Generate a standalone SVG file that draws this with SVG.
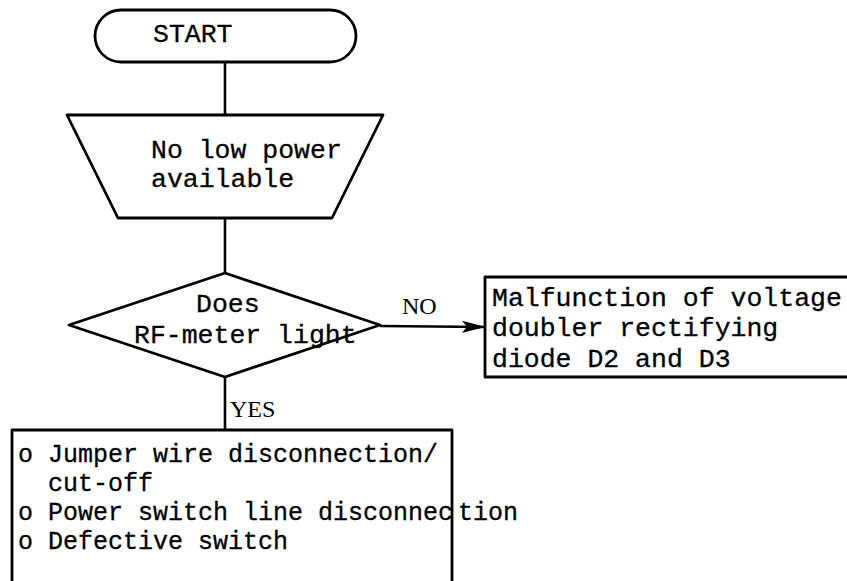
<svg xmlns="http://www.w3.org/2000/svg" width="847" height="581" viewBox="0 0 847 581">
  <style>
    .shape { fill: none; stroke: #000; stroke-width: 2.8; stroke-linejoin: round; }
    .wire { fill: none; stroke: #000; stroke-width: 2.6; }
    .txt { font-family: "Liberation Mono", "DejaVu Sans Mono", monospace; font-size: 26.5px; fill: #000; stroke: #000; stroke-width: 0.3; }
    .list { font-size: 25px; }
    .lbl { font-family: "Liberation Serif", "Times New Roman", serif; font-size: 24px; fill: #000; }
  </style>
  <defs>
    <marker id="arrow" viewBox="0 0 24 12" refX="23" refY="6" markerWidth="24" markerHeight="12" markerUnits="userSpaceOnUse" orient="auto">
      <path d="M0,0 L24,6 L0,12 L5,6 Z" fill="#000"/>
    </marker>
  </defs>
  <rect width="847" height="581" fill="#fff"/>

  <!-- connectors -->
  <g id="connectors">
    <line class="wire" x1="225" y1="62" x2="225" y2="115"/>
    <line class="wire" x1="225" y1="218" x2="225" y2="273"/>
    <line class="wire" x1="380" y1="326" x2="485" y2="327" marker-end="url(#arrow)"/>
    <text class="lbl" x="402" y="314">NO</text>
    <line class="wire" x1="225" y1="377" x2="225" y2="430"/>
    <text class="lbl" x="230" y="417">YES</text>
  </g>

  <!-- start terminal -->
  <g id="start">
    <rect class="shape" x="95" y="10" width="261" height="52" rx="26" ry="26"/>
    <text class="txt" x="153" y="42">START</text>
  </g>

  <!-- manual input / symptom -->
  <g id="symptom">
    <polygon class="shape" points="67,115 383,115 332,218 118,218"/>
    <text class="txt" x="151" y="158">No low power</text>
    <text class="txt" x="151" y="187">available</text>
  </g>

  <!-- decision -->
  <g id="decision">
    <polygon class="shape" points="225,273 380,325 225,377 69,325"/>
    <text class="txt" x="196" y="312">Does</text>
    <text class="txt" x="134" y="343">RF-meter light</text>
  </g>

  <!-- NO branch result (box runs past the right edge) -->
  <g id="result-no">
    <path class="shape" d="M860,277 H485 V377 H860"/>
    <text class="txt" x="492" y="306">Malfunction of voltage</text>
    <text class="txt" x="492" y="336">doubler rectifying</text>
    <text class="txt" x="492" y="367">diode D2 and D3</text>
  </g>

  <!-- YES branch result (box runs past the bottom edge) -->
  <g id="result-yes">
    <path class="shape" d="M12,590 V430 H452 V590"/>
    <text class="txt list" x="18" y="462">o Jumper wire disconnection/</text>
    <text class="txt list" x="48" y="491">cut-off</text>
    <text class="txt list" x="18" y="520">o Power switch line disconnec<tspan x="458">tion</tspan></text>
    <text class="txt list" x="18" y="549">o Defective switch</text>
  </g>
</svg>
